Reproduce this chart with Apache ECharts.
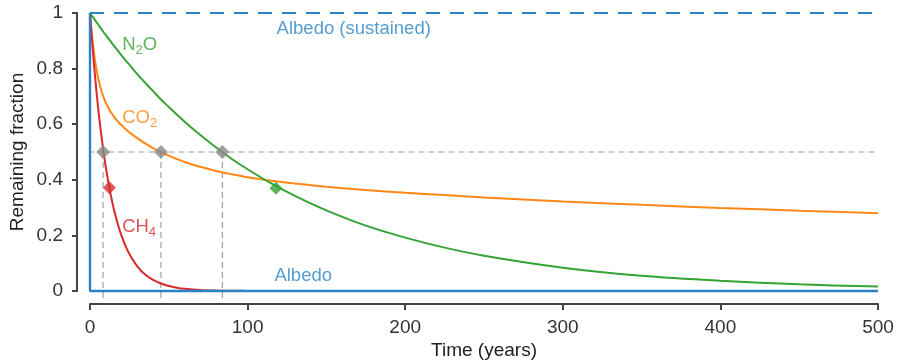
<!DOCTYPE html>
<html>
<head>
<meta charset="utf-8">
<script src="https://cdn.jsdelivr.net/npm/echarts@6/dist/echarts.min.js"></script>
<style>
  html, body { margin: 0; padding: 0; background: #fff; }
  #chart { width: 898px; height: 362px; }
</style>
</head>
<body>
<div id="chart"></div>
<script>
// years after the pulse (x values shared by the gas curves)
const years = [0, 1, 2, 3, 4, 5, 6, 7, 8, 9, 10, 12, 14, 16, 18, 20, 23, 26, 30, 35, 40, 45, 50, 55, 60, 70, 80, 90, 100, 115, 130, 150, 175, 200, 225, 250, 300, 350, 400, 450, 500];
// remaining fraction
const co2 = [1, 0.934, 0.881, 0.837, 0.801, 0.771, 0.746, 0.725, 0.707, 0.691, 0.678, 0.655, 0.637, 0.621, 0.608, 0.596, 0.580, 0.566, 0.550, 0.531, 0.514, 0.500, 0.487, 0.475, 0.464, 0.447, 0.432, 0.420, 0.409, 0.397, 0.387, 0.375, 0.363, 0.353, 0.345, 0.336, 0.322, 0.310, 0.299, 0.289, 0.280];
const n2o = [1, 0.992, 0.984, 0.976, 0.968, 0.960, 0.952, 0.944, 0.936, 0.928, 0.921, 0.906, 0.891, 0.876, 0.862, 0.848, 0.827, 0.807, 0.780, 0.749, 0.719, 0.689, 0.662, 0.635, 0.609, 0.561, 0.516, 0.475, 0.438, 0.387, 0.342, 0.290, 0.235, 0.192, 0.156, 0.127, 0.084, 0.055, 0.037, 0.024, 0.016];
const ch4 = [1, 0.923, 0.851, 0.785, 0.724, 0.668, 0.616, 0.569, 0.525, 0.484, 0.446, 0.380, 0.323, 0.275, 0.234, 0.199, 0.156, 0.123, 0.089, 0.059, 0.040, 0.027, 0.018, 0.012, 0.008, 0.0035, 0.0016, 0.0007, 0.0003, 0, 0, 0, 0, 0, 0, 0, 0, 0, 0, 0, 0];
const albedo = [[0, 1], [0, 0], [500, 0]];
const albedoSustained = [[0, 1], [500, 1]];
// half-life markers (year at which each gas is at 0.5)
const halfLifeYears = [8.3, 45, 84];
const halfLevel = 0.5;
// e-folding markers
const ch4Life = [12.3, 0.371];
const n2oLife = [118, 0.37];

const C = {
  blue: '#2b83c6', green: '#35a335', orange: '#ff8716', red: '#d8292c', gray: '#888888', axis: '#444'
};
const FONT = 'Liberation Sans, Arial, sans-serif';

function pairs(ys) { return years.map((x, i) => [x, ys[i]]); }

// guide lines at 0.5
const guideSeries = [{
  type: 'line', data: [[-7.3, halfLevel], [500, halfLevel]], clip: false, symbol: 'none', silent: true,
  lineStyle: { color: '#a0a0a0', width: 1.2, type: [6, 4] }, z: 1
}];
halfLifeYears.forEach(x => {
  guideSeries.push({
    type: 'line', data: [[x, halfLevel], [x, -0.04]], clip: false, symbol: 'none', silent: true,
    lineStyle: { color: '#a0a0a0', width: 1.2, type: [6, 4] }, z: 1
  });
});

function textLabel(x, y, fmt, color) {
  return {
    type: 'scatter', data: [[x, y]], symbolSize: 0, silent: true, z: 10,
    label: {
      show: true, position: 'right', distance: 0, formatter: fmt, color: color,
      fontSize: 18.5, fontFamily: FONT,
      rich: {
        n: { fontSize: 18.5, fontFamily: FONT, color: color },
        s: { fontSize: 13, fontFamily: FONT, color: color, padding: [11, 0, 0, 0] }
      }
    }
  };
}

const chart = echarts.init(document.getElementById('chart'));
chart.setOption({
  animation: false,
  grid: { left: 90, right: 20, top: 13, bottom: 71, outerBoundsMode: 'none', containLabel: false },
  xAxis: {
    type: 'value', min: 0, max: 500, interval: 100, offset: 13,
    name: 'Time (years)', nameLocation: 'middle', nameGap: 37, nameMoveOverlap: false,
    nameTextStyle: { fontSize: 19, fontFamily: FONT, color: '#222' },
    axisLine: { onZero: false, lineStyle: { color: C.axis, width: 2 } },
    axisTick: { length: 6, lineStyle: { color: C.axis, width: 2 } },
    axisLabel: { fontSize: 19, fontFamily: FONT, color: '#333', margin: 14 },
    splitLine: { show: false }
  },
  yAxis: {
    type: 'value', min: 0, max: 1, interval: 0.2, offset: 13,
    name: 'Remaining fraction', nameLocation: 'middle', nameGap: 50, nameMoveOverlap: false,
    nameTextStyle: { fontSize: 19, fontFamily: FONT, color: '#222' },
    axisLine: { show: true, onZero: false, lineStyle: { color: C.axis, width: 2 } },
    axisTick: { show: true, length: 5, lineStyle: { color: C.axis, width: 2 } },
    axisLabel: { fontSize: 19, fontFamily: FONT, color: '#333', margin: 14,
      formatter: v => String(Math.round(v * 10) / 10) },
    splitLine: { show: false }
  },
  series: guideSeries.concat([
    { name: 'Albedo (sustained)', type: 'line', data: albedoSustained, symbol: 'none', clip: false,
      lineStyle: { color: C.blue, width: 2, type: [14, 10] }, z: 3 },
    { name: 'CO2', type: 'line', data: pairs(co2), symbol: 'none', smooth: 0.3,
      lineStyle: { color: C.orange, width: 2 }, z: 3 },
    { name: 'N2O', type: 'line', data: pairs(n2o), symbol: 'none', smooth: 0.3,
      lineStyle: { color: C.green, width: 2 }, z: 4 },
    { name: 'CH4', type: 'line', data: pairs(ch4), symbol: 'none', smooth: 0.3,
      lineStyle: { color: C.red, width: 2 }, z: 4 },
    { name: 'Albedo', type: 'line', data: albedo, symbol: 'none', clip: false,
      lineStyle: { color: C.blue, width: 2.4 }, z: 5 },
    { type: 'scatter', data: halfLifeYears.map(x => [x, halfLevel]), symbol: 'diamond', symbolSize: 14,
      itemStyle: { color: C.gray }, z: 6 },
    { type: 'scatter', data: [ch4Life], symbol: 'diamond', symbolSize: 13, itemStyle: { color: C.red }, z: 6 },
    { type: 'scatter', data: [n2oLife], symbol: 'diamond', symbolSize: 13, itemStyle: { color: C.green }, z: 6 },
    textLabel(20.4, 0.885, '{n|N}{s|2}{n|O}', C.green),
    textLabel(20.4, 0.622, '{n|CO}{s|2}', C.orange),
    textLabel(20.4, 0.229, '{n|CH}{s|4}', C.red),
    textLabel(117, 0.053, 'Albedo', C.blue),
    textLabel(118.4, 0.942, 'Albedo (sustained)', C.blue)
  ])
});
</script>
</body>
</html>
